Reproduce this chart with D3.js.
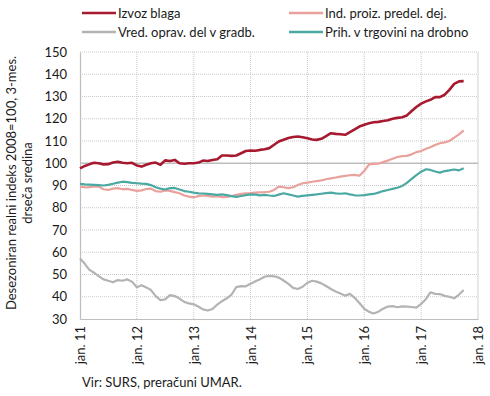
<!DOCTYPE html>
<html>
<head>
<meta charset="utf-8">
<script src="https://cdn.jsdelivr.net/npm/d3@7"></script>
<style>
  body { margin: 0; background: #fff; }
  svg text { font-family: Lato, "Open Sans", sans-serif; fill: #1a1a1a; }
</style>
</head>
<body>
<figure id="chart" style="margin:0"></figure>
<script>
// monthly, jan. 2011 - okt. 2017
const izvozBlaga = [97.7, 98.8, 99.5, 100.2, 100, 99.5, 99.6, 100.3, 100.7, 100.2, 100, 100.2,
  99, 98.5, 99.3, 100, 100.3, 99.3, 101.3, 101, 101.5, 100, 99.8, 100,
  100, 100.3, 101.2, 101, 101.5, 101.8, 103.5, 103.5, 103.3, 103.5, 104.5, 105.5,
  105.7, 105.6, 106, 106.3, 106.8, 108.3, 109.8, 110.6, 111.3, 111.8, 112, 111.7,
  111.2, 110.7, 110.5, 111, 112.2, 113.5, 113.2, 113, 112.8, 114, 115.2, 116.5,
  117.3, 118, 118.4, 118.6, 119, 119.3, 120, 120.4, 120.7, 121.5, 123.5, 125.3,
  126.8, 127.8, 128.5, 129.7, 129.7, 130.8, 133, 135.7, 136.8, 136.9];
const indProiz = [89.5, 89.2, 89.3, 89.6, 89.5, 88.3, 88, 88.6, 88.8, 88.3, 88.5, 88,
  87.6, 87.8, 88.4, 88.6, 87.5, 87.2, 87.8, 87.6, 87, 86.5, 85.5, 85,
  84.7, 85.2, 85.5, 85.3, 85, 85.2, 84.8, 84.9, 85.3, 85.8, 86.2, 86.5,
  86.6, 86.8, 86.9, 87, 87.2, 88, 89.5, 89.2, 88.8, 89.2, 90.2, 91,
  91.3, 91.7, 92, 92.3, 92.8, 93.2, 93.6, 94, 94.3, 94.6, 94.8, 94.4,
  96.5, 99.5, 99.7, 99.8, 100.5, 101.2, 102, 102.8, 103.2, 103.3, 104, 105,
  105.5, 106.5, 107.2, 108.2, 109, 109.4, 110, 111.5, 113, 114.8];
const vredGradb = [57.2, 54.8, 52.2, 50.8, 49.3, 47.8, 47.2, 46.5, 47.5, 47.2, 47.8, 46.8,
  44.3, 45.2, 44.2, 43, 40.3, 38.5, 38.8, 40.7, 40.3, 39.2, 37.7, 37,
  36.6, 35.5, 34.3, 33.8, 34.5, 36.5, 38, 39.3, 41, 44.3, 44.8, 44.7,
  45.8, 47, 47.8, 49, 49.4, 49.2, 48.6, 47.3, 45.8, 44, 43.5, 44.5,
  46.3, 47.2, 46.8, 46, 44.8, 43.5, 42.4, 41.5, 40.5, 41.3, 39.5, 37.2,
  34.6, 33.2, 32.5, 33.3, 34.6, 35.6, 35.8, 35.3, 35.7, 35.6, 35.4, 35.1,
  36.8, 39, 42, 41.3, 41.2, 40.4, 40, 39.3, 41, 43];
const prihTrgovina = [90.7, 90.5, 90.4, 90.3, 90.2, 90, 90.3, 90.8, 91.3, 91.7, 91.5, 91.2,
  91, 90.8, 90.7, 90.2, 89.2, 88.6, 88.2, 88.8, 88.9, 88.2, 87.5, 87.2,
  86.8, 86.5, 86.4, 86.2, 86, 85.8, 86, 85.7, 85.2, 84.9, 85.3, 85.7,
  86, 85.9, 85.6, 85.8, 85.5, 85.3, 85.9, 86.5, 86, 85.5, 85, 85.3,
  85.6, 85.8, 86, 86.3, 86.6, 86.8, 86.5, 86.3, 86.5, 86, 85.6, 85.5,
  85.7, 86, 86.2, 86.8, 87.5, 88, 88.5, 89, 89.8, 91.2, 93, 94.7,
  96.2, 97.3, 97, 96.3, 95.8, 96.5, 96.8, 97.2, 96.8, 97.8];

const seriesNames = ["Izvoz blaga", "Ind. proiz. predel. dej.", "Vred. oprav. del v gradb.", "Prih. v trgovini na drobno"];
const seriesColors = ["#a6192e", "#e9a19c", "#b3b3b3", "#4ba9a3"];
const seriesValues = [izvozBlaga, indProiz, vredGradb, prihTrgovina];
const yTicks = [30, 40, 50, 60, 70, 80, 90, 100, 110, 120, 130, 140, 150];
const yearTicks = [2011, 2012, 2013, 2014, 2015, 2016, 2017, 2018];

const months = d3.timeMonth.range(new Date(2011, 0, 1), new Date(2017, 10, 1));

const width = 490, height = 396;
const margin = {top: 52, right: 12, bottom: 77, left: 80};
const innerW = 478 - margin.left;
const innerH = 319 - margin.top;

const svg = d3.select("figure#chart")
  .append("svg")
  .attr("width", width)
  .attr("height", height);

const g = svg.append("g")
  .attr("transform", "translate(" + margin.left + "," + margin.top + ")");

const x = d3.scaleTime()
  .domain([new Date(2011, 0, 1), new Date(2018, 0, 1)])
  .range([0, innerW]);

const y = d3.scaleLinear()
  .domain([30, 150])
  .range([innerH, 0]);

// grid
g.append("g")
  .selectAll("line")
  .data(yTicks.filter(d => d !== 30 && d !== 100))
  .enter()
  .append("line")
  .attr("x1", 0).attr("x2", innerW)
  .attr("y1", d => y(d)).attr("y2", d => y(d))
  .attr("stroke", "#c8c8c8")
  .attr("stroke-dasharray", "1,1");

g.append("g")
  .selectAll("line")
  .data(yearTicks.slice(1, -1))
  .enter()
  .append("line")
  .attr("x1", d => x(new Date(d, 0, 1))).attr("x2", d => x(new Date(d, 0, 1)))
  .attr("y1", 0).attr("y2", innerH)
  .attr("stroke", "#c8c8c8")
  .attr("stroke-dasharray", "1,1");

// right border
g.append("line")
  .attr("x1", innerW).attr("x2", innerW)
  .attr("y1", 0).attr("y2", innerH)
  .attr("stroke", "#d0d0d0");

// line at 100
g.append("line")
  .attr("x1", 0).attr("x2", innerW)
  .attr("y1", y(100)).attr("y2", y(100))
  .attr("stroke", "#bdbdbd")
  .attr("stroke-width", 1.5);

// y axis
const yAxis = g.append("g")
  .call(d3.axisLeft(y).tickValues(yTicks).tickSize(0).tickPadding(13));
yAxis.select(".domain").attr("stroke", "#bdbdbd").attr("stroke-width", 1.2);
yAxis.selectAll("text").style("font-size", "13px").attr("fill", "#1a1a1a");

// x axis
const xAxis = g.append("g")
  .attr("transform", "translate(0," + innerH + ")")
  .call(d3.axisBottom(x)
    .tickValues(yearTicks.map(d => new Date(d, 0, 1)))
    .tickFormat(d => "jan. " + String(d.getFullYear()).slice(2))
    .tickSize(0));
xAxis.select(".domain").attr("stroke", "#bdbdbd").attr("stroke-width", 1.2);
xAxis.selectAll("text")
  .style("font-size", "13px")
  .attr("fill", "#1a1a1a")
  .attr("transform", "rotate(-90)")
  .attr("x", -7)
  .attr("y", 0)
  .attr("dy", "0.35em")
  .style("text-anchor", "end");

// series lines
const line = d3.line()
  .x((d, i) => x(months[i]))
  .y(d => y(d));

[2, 1, 3, 0].forEach(k => {
  g.append("path")
    .datum(seriesValues[k])
    .attr("fill", "none")
    .attr("stroke", seriesColors[k])
    .attr("stroke-width", k === 0 ? 2.6 : 2.2)
    .attr("stroke-linejoin", "round")
    .attr("d", line);
});

// legend
const legendPos = [[82, 13], [289, 13], [82, 32], [289, 32]];
seriesNames.forEach((name, k) => {
  const lg = svg.append("g")
    .attr("transform", "translate(" + legendPos[k][0] + "," + legendPos[k][1] + ")");
  lg.append("line")
    .attr("x1", 0).attr("x2", 34)
    .attr("stroke", seriesColors[k])
    .attr("stroke-width", 2.5);
  lg.append("text")
    .attr("x", 36)
    .attr("dy", "0.35em")
    .style("font-size", "13px")
    .text(name);
});

// y title
const yTitle = svg.append("text")
  .attr("transform", "translate(16,183) rotate(-90)")
  .style("text-anchor", "middle")
  .style("font-size", "13px");
yTitle.append("tspan").attr("x", 0).attr("dy", 0).text("Desezoniran realni indeks 2008=100, 3-mes.");
yTitle.append("tspan").attr("x", 0).attr("dy", "1.25em").text("drseča sredina");

// source
svg.append("text")
  .attr("x", 82)
  .attr("y", 387)
  .style("font-size", "13px")
  .text("Vir: SURS, preračuni UMAR.");
</script>
</body>
</html>
